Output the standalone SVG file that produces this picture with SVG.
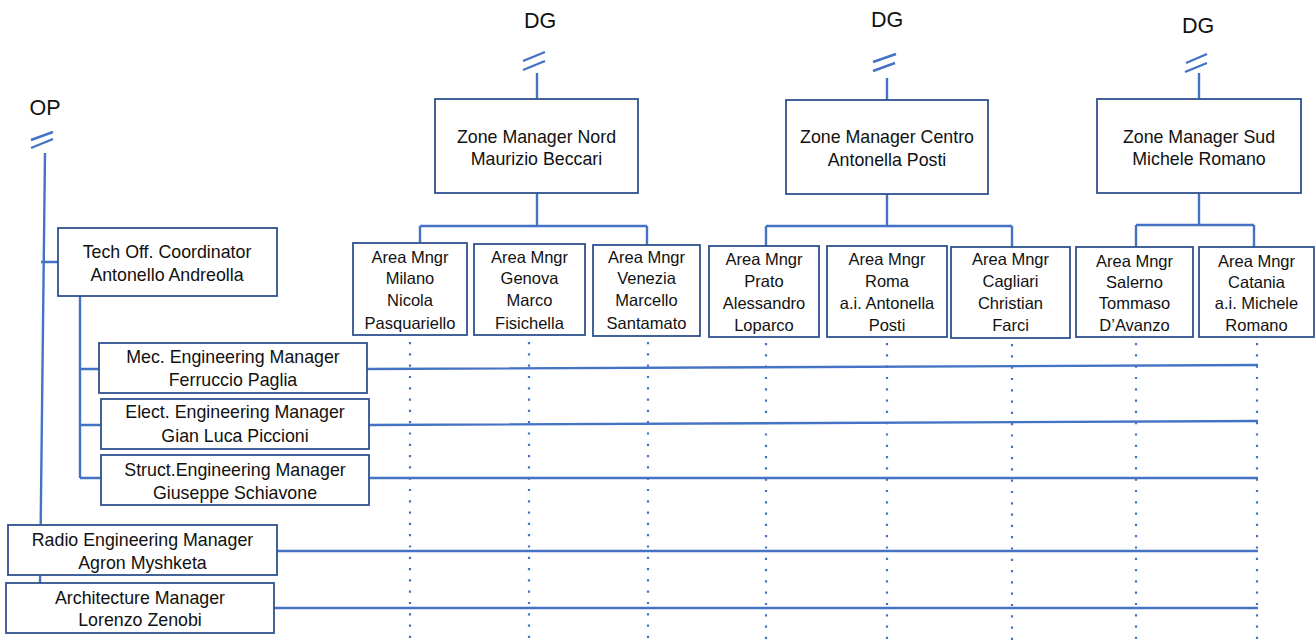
<svg xmlns="http://www.w3.org/2000/svg" width="1316" height="643" viewBox="0 0 1316 643">
<style>
.box{fill:#fff;stroke:#2F528F;stroke-width:1.8}
.ln{fill:none;stroke:#4472C4;stroke-width:2.4}
.dot{fill:none;stroke:#4472C4;stroke-width:2.2;stroke-dasharray:2.2 9.1}
text{font-family:"Liberation Sans",Arial,sans-serif;fill:#111;text-anchor:middle}
.t{font-size:17.8px}
.a{font-size:16.5px}
.h{font-size:21.5px}
</style>
<rect width="1316" height="643" fill="#fff"/>
<g id="connectors">
<path class="dot" d="M410 342V643M529 342V643M648 342V643M766 343V643M887 343V643M1012 344V643M1136 343V643M1257 343V643"/>
<path class="ln" d="M31 140L53 132M31 148L53 139M523 61L545 52M523 70L545 61M873 62L896 54M873 71L895 63M1186 63L1207 54M1185 72L1207 63"/>
<path class="ln" d="M45 153L40 584M41 262H58"/>
<path class="ln" d="M80 296V478M80 369H99M80 425H101M80 478H101"/>
<path class="ln" d="M367 369L1258 365M369 425L1258 421M369 478H1258M277 551H1258M274 608H1258"/>
<path class="ln" d="M537 73V99M537 193V226M420 226H647M420 226V243M647 226V245"/>
<path class="ln" d="M887 78V100M887 194V226M766 226H1012M766 226V246M1012 226V247"/>
<path class="ln" d="M1199 73V99M1199 193V225M1136 225H1254M1136 225V247M1254 225V247"/>
</g>
<g id="labels">
<text class="h" x="45" y="115">OP</text>
<text class="h" x="540" y="28">DG</text>
<text class="h" x="887" y="27">DG</text>
<text class="h" x="1198" y="33">DG</text>
</g>
<g id="zone-nord"><rect class="box" x="435" y="99" width="203" height="94"/><text class="t" x="536.5" y="143">Zone Manager Nord</text><text class="t" x="536.5" y="165">Maurizio Beccari</text></g>
<g id="zone-centro"><rect class="box" x="786" y="100" width="202" height="94"/><text class="t" x="887" y="143">Zone Manager Centro</text><text class="t" x="887" y="166">Antonella Posti</text></g>
<g id="zone-sud"><rect class="box" x="1097" y="99" width="204" height="94"/><text class="t" x="1199" y="143">Zone Manager Sud</text><text class="t" x="1199" y="165">Michele Romano</text></g>
<g id="am-milano"><rect class="box" x="353" y="243" width="114" height="92"/><text class="a" x="410" y="263">Area Mngr</text><text class="a" x="410" y="284">Milano</text><text class="a" x="410" y="306">Nicola</text><text class="a" x="410" y="329">Pasquariello</text></g>
<g id="am-genova"><rect class="box" x="474" y="244" width="111" height="91"/><text class="a" x="529.5" y="263">Area Mngr</text><text class="a" x="529.5" y="284">Genova</text><text class="a" x="529.5" y="306">Marco</text><text class="a" x="529.5" y="329">Fisichella</text></g>
<g id="am-venezia"><rect class="box" x="593" y="245" width="107" height="91"/><text class="a" x="646.5" y="263">Area Mngr</text><text class="a" x="646.5" y="284">Venezia</text><text class="a" x="646.5" y="306">Marcello</text><text class="a" x="646.5" y="329">Santamato</text></g>
<g id="am-prato"><rect class="box" x="709" y="246" width="110" height="91"/><text class="a" x="764" y="265">Area Mngr</text><text class="a" x="764" y="287">Prato</text><text class="a" x="764" y="309">Alessandro</text><text class="a" x="764" y="331">Loparco</text></g>
<g id="am-roma"><rect class="box" x="827" y="246" width="120" height="91"/><text class="a" x="887" y="265">Area Mngr</text><text class="a" x="887" y="287">Roma</text><text class="a" x="887" y="309">a.i. Antonella</text><text class="a" x="887" y="331">Posti</text></g>
<g id="am-cagliari"><rect class="box" x="951" y="247" width="119" height="91"/><text class="a" x="1010.5" y="265">Area Mngr</text><text class="a" x="1010.5" y="287">Cagliari</text><text class="a" x="1010.5" y="309">Christian</text><text class="a" x="1010.5" y="331">Farci</text></g>
<g id="am-salerno"><rect class="box" x="1076" y="247" width="117" height="90"/><text class="a" x="1134.5" y="267">Area Mngr</text><text class="a" x="1134.5" y="288">Salerno</text><text class="a" x="1134.5" y="309">Tommaso</text><text class="a" x="1134.5" y="331">D’Avanzo</text></g>
<g id="am-catania"><rect class="box" x="1199" y="247" width="115" height="90"/><text class="a" x="1256.5" y="267">Area Mngr</text><text class="a" x="1256.5" y="288">Catania</text><text class="a" x="1256.5" y="309">a.i. Michele</text><text class="a" x="1256.5" y="331">Romano</text></g>
<g id="tech-off"><rect class="box" x="58" y="228" width="219" height="68"/><text class="t" x="167" y="258">Tech Off. Coordinator</text><text class="t" x="167" y="281">Antonello Andreolla</text></g>
<g id="mec-eng"><rect class="box" x="99" y="343" width="268" height="50"/><text class="t" x="233" y="363">Mec. Engineering Manager</text><text class="t" x="233" y="386">Ferruccio Paglia</text></g>
<g id="elect-eng"><rect class="box" x="101" y="399" width="268" height="50"/><text class="t" x="235" y="418">Elect. Engineering Manager</text><text class="t" x="235" y="442">Gian Luca Piccioni</text></g>
<g id="struct-eng"><rect class="box" x="101" y="455" width="268" height="50"/><text class="t" x="235" y="476">Struct.Engineering Manager</text><text class="t" x="235" y="499">Giuseppe Schiavone</text></g>
<g id="radio-eng"><rect class="box" x="8" y="525" width="269" height="50"/><text class="t" x="142.5" y="546">Radio Engineering Manager</text><text class="t" x="142.5" y="569">Agron Myshketa</text></g>
<g id="arch"><rect class="box" x="6" y="583" width="268" height="50"/><text class="t" x="140" y="604">Architecture Manager</text><text class="t" x="140" y="626">Lorenzo Zenobi</text></g>
</svg>
